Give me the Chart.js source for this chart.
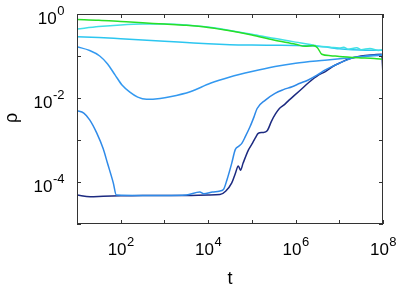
<!DOCTYPE html>
<html>
<head>
<meta charset="utf-8">
<script src="https://cdn.jsdelivr.net/npm/chart.js@4/dist/chart.umd.min.js"></script>
<style>
  html, body { margin: 0; padding: 0; background: #ffffff; }
  #wrap { width: 399px; height: 286px; }
</style>
</head>
<body>
<div id="wrap"><canvas id="c" width="399" height="286"></canvas></div>
<script>
const greenT   = [10, 31.6, 100, 316, 1000, 3160, 1e4, 3.16e4, 1e5, 3.16e5, 1e6, 1.66e6, 2.51e6, 3.16e6, 3.98e6, 6.31e6, 1e7, 2.75e7, 6.31e7, 1e8];
const greenRho = [0.741, 0.708, 0.661, 0.617, 0.575, 0.537, 0.479, 0.398, 0.316, 0.240, 0.191, 0.170, 0.178, 0.158, 0.110, 0.102, 0.0977, 0.0912, 0.0871, 0.0832];

const cyanT   = [10, 31.6, 100, 316, 1000, 3160, 1e4, 3.16e4, 1e5, 3.16e5, 1e6, 2e6, 3.16e6, 6.31e6, 1e7, 1.26e7, 1.58e7, 2.51e7, 3.16e7, 5.01e7, 7.94e7, 1e8];
const cyanRho = [0.437, 0.501, 0.550, 0.575, 0.575, 0.550, 0.490, 0.407, 0.331, 0.263, 0.214, 0.191, 0.174, 0.162, 0.155, 0.162, 0.145, 0.158, 0.141, 0.151, 0.135, 0.141];

const skyT   = [10, 31.6, 100, 316, 1000, 3160, 1e4, 3.16e4, 1e5, 3.16e5, 1e6, 3.16e6, 6.31e6, 1e7, 2e7, 3.98e7, 1e8];
const skyRho = [0.288, 0.275, 0.257, 0.240, 0.224, 0.209, 0.195, 0.186, 0.182, 0.180, 0.178, 0.170, 0.158, 0.148, 0.141, 0.138, 0.138];

const dipT   = [10, 19.5, 33.1, 50.1, 74.1, 107, 162, 245, 389, 794, 1349, 3890, 1.12e4, 3.16e4, 1e5, 3.39e5, 1e6, 4.68e6, 1.95e7, 5.01e7, 1e8];
const dipRho = [0.166, 0.135, 0.1, 0.0646, 0.0355, 0.0204, 0.0138, 0.0105, 0.00933, 0.00977, 0.0107, 0.0141, 0.0224, 0.0316, 0.0427, 0.0562, 0.0676, 0.0794, 0.0912, 0.1, 0.105];

const dropT   = [10, 14.3, 19.5, 28.2, 39.8, 50.1, 67.6, 79.4, 316, 1000, 3160, 6460, 7940, 1.26e4, 1.78e4, 2.24e4, 2.69e4, 3.47e4, 4.17e4, 5.01e4, 5.89e4, 7.08e4, 9.12e4, 1.12e5, 1.32e5, 2.04e5, 3.39e5, 5.25e5, 8.32e5, 1.26e6, 1.95e6, 3.16e6, 4.79e6, 7.94e6, 1.17e7, 2e7, 3.98e7, 1e8];
const dropRho = [5.01e-3, 4.37e-3, 3.02e-3, 1.48e-3, 6.17e-4, 2.75e-4, 9.55e-5, 4.90e-5, 4.79e-5, 4.79e-5, 4.90e-5, 5.75e-5, 5.25e-5, 5.75e-5, 6.03e-5, 6.61e-5, 1.12e-4, 2.82e-4, 5.89e-4, 7.08e-4, 8.32e-4, 1.20e-3, 2.09e-3, 3.55e-3, 5.62e-3, 8.91e-3, 0.0129, 0.0158, 0.0186, 0.0224, 0.0269, 0.0355, 0.0468, 0.0603, 0.0724, 0.0891, 0.1, 0.107];

const navyT   = [10, 20, 39.8, 100, 316, 1000, 3160, 1e4, 1.86e4, 2.51e4, 3.47e4, 4.17e4, 4.9e4, 5.5e4, 6.31e4, 8.32e4, 1e5, 1.2e5, 1.41e5, 1.78e5, 2.24e5, 2.82e5, 3.47e5, 4.27e5, 5.37e5, 7.08e5, 9.12e5, 1.26e6, 2e6, 3.39e6, 4.79e6, 7.08e6, 1.17e7, 1.62e7, 3.16e7, 6.31e7, 9.33e7, 1e8];
const navyRho = [4.90e-5, 4.47e-5, 4.57e-5, 4.68e-5, 4.79e-5, 4.79e-5, 4.79e-5, 4.90e-5, 5.01e-5, 6.03e-5, 9.55e-5, 1.58e-4, 2.40e-4, 1.91e-4, 2.82e-4, 5.75e-4, 7.94e-4, 1.12e-3, 1.45e-3, 1.51e-3, 1.66e-3, 2.82e-3, 4.17e-3, 5.62e-3, 6.76e-3, 8.91e-3, 0.0112, 0.0151, 0.0234, 0.0355, 0.0427, 0.0562, 0.0724, 0.0851, 0.1, 0.107, 0.110, 0.0355];

// axis ticks
const xTicks = [1e1, 1e2, 1e3, 1e4, 1e5, 1e6, 1e7, 1e8];
const yTicks = [1, 1e-1, 1e-2, 1e-3, 1e-4, 1e-5];
const xLabelExps = ['2', '4', '6', '8'];
const yLabelExps = ['0', '-2', '-4'];

function pts(ts, rs) {
    return ts.map((t, i) => ({ x: t, y: rs[i] }));
}

function line(data, color) {
    return {
        data: data, borderColor: color, borderWidth: 1.5, pointRadius: 0,
        fill: false, cubicInterpolationMode: 'monotone'
    };
}

const FONT = '"Liberation Sans", Arial, Helvetica, sans-serif';

const frame = {
    id: 'frame',
    afterDraw(chart) {
        const ctx = chart.ctx;
        const a = chart.chartArea;
        const xs = chart.scales.x, ys = chart.scales.y;
        ctx.save();
        ctx.strokeStyle = '#333333';
        ctx.lineWidth = 1;
        ctx.strokeRect(a.left + 0.5, a.top + 0.5, a.right - a.left - 1, a.bottom - a.top - 1);

        // inward ticks on all four sides
        ctx.beginPath();
        xTicks.forEach(v => {
            const px = Math.round(xs.getPixelForValue(v)) + 0.5;
            ctx.moveTo(px, a.bottom); ctx.lineTo(px, a.bottom - 4);
            ctx.moveTo(px, a.top); ctx.lineTo(px, a.top + 4);
        });
        yTicks.forEach(v => {
            const py = Math.round(ys.getPixelForValue(v)) + 0.5;
            ctx.moveTo(a.left, py); ctx.lineTo(a.left + 4, py);
            ctx.moveTo(a.right, py); ctx.lineTo(a.right - 4, py);
        });
        ctx.stroke();

        ctx.fillStyle = '#000000';
        ctx.textBaseline = 'alphabetic';
        ctx.textAlign = 'left';
        const base = '17px ' + FONT, sup = '13px ' + FONT;

        xLabelExps.forEach(e => {
            const px = xs.getPixelForValue(Math.pow(10, Number(e)));
            ctx.font = base; const wb = ctx.measureText('10').width;
            ctx.font = sup; const ws = ctx.measureText(e).width;
            const x0 = px - (wb + ws) / 2;
            ctx.font = base; ctx.fillText('10', x0, a.bottom + 31);
            ctx.font = sup; ctx.fillText(e, x0 + wb + 0.5, a.bottom + 22);
        });

        yLabelExps.forEach(e => {
            const py = ys.getPixelForValue(Math.pow(10, Number(e)));
            ctx.font = base; const wb = ctx.measureText('10').width;
            ctx.font = sup; const ws = ctx.measureText(e).width;
            const x0 = 64 - (wb + ws);
            ctx.font = base; ctx.fillText('10', x0, py + 10);
            ctx.font = sup; ctx.fillText(e, x0 + wb + 0.5, py + 1);
        });

        // axis titles
        ctx.font = '18px ' + FONT;
        ctx.textAlign = 'center';
        ctx.fillText('t', (a.left + a.right) / 2, 284);
        ctx.translate(12, 118);
        ctx.rotate(-Math.PI / 2);
        ctx.textBaseline = 'middle';
        ctx.fillText('ρ', 0, 0);
        ctx.restore();
    }
};

new Chart(document.getElementById('c').getContext('2d'), {
    type: 'line',
    data: {
        datasets: [
            line(pts(greenT, greenRho), '#28e028'),
            line(pts(cyanT, cyanRho), '#40e0e6'),
            line(pts(skyT, skyRho), '#2cc6f0'),
            line(pts(dipT, dipRho), '#3399f0'),
            line(pts(dropT, dropRho), '#2f8ae8'),
            line(pts(navyT, navyRho), '#1c2a80')
        ]
    },
    options: {
        responsive: false,
        animation: false,
        layout: { padding: { left: 77, right: 16, top: 14, bottom: 62 } },
        plugins: { legend: { display: false }, tooltip: { enabled: false } },
        scales: {
            x: { type: 'logarithmic', min: 10, max: 1e8, display: false },
            y: { type: 'logarithmic', min: 1e-5, max: 1, display: false }
        }
    },
    plugins: [frame]
});
</script>
</body>
</html>
